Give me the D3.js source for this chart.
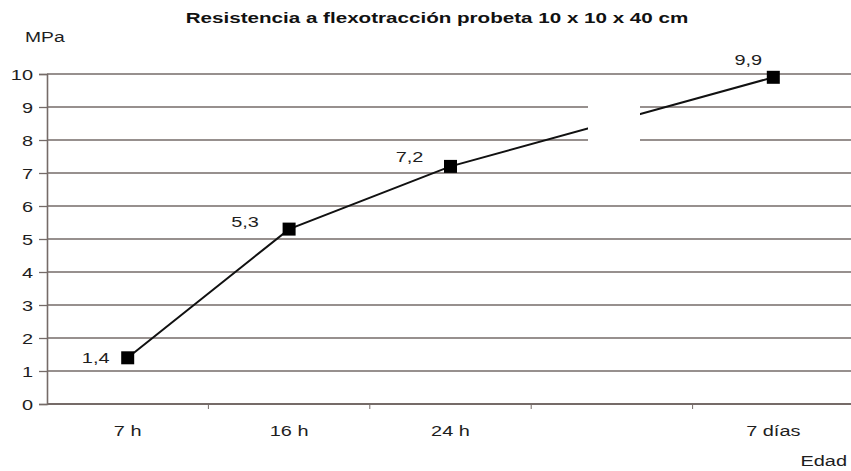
<!DOCTYPE html>
<html>
<head>
<meta charset="utf-8">
<script src="https://cdn.jsdelivr.net/npm/d3@7"></script>
<style>
  body { margin: 0; background: #fff; }
  svg { display: block; font-family: "Liberation Sans", Arial, sans-serif; }
</style>
</head>
<body>
<svg id="chart" width="851" height="471"></svg>
<script>
// Categories along the age axis (one empty slot marks the time break)
const categories = ["7 h", "16 h", "24 h", "", "7 días"];
// Measured flexural strength, MPa
const pointCats = ["7 h", "16 h", "24 h", "7 días"];
const values = [1.4, 5.3, 7.2, 9.9];
const valueLabels = ["1,4", "5,3", "7,2", "9,9"];
const yTicks = [0, 1, 2, 3, 4, 5, 6, 7, 8, 9, 10];

(function () {
  const svg = d3.select("#chart");
  const mLeft = 47, mRight = 854, mTop = 74, mBottom = 404;
  const stretch = 1.33;           // wide lettering used throughout
  const textColor = "#1e1e1e";
  const gridColor = "#756b68";

  const x = d3.scaleBand().domain(categories).range([mLeft, mRight]);
  const y = d3.scaleLinear().domain([0, 10]).range([mBottom, mTop]);

  // place a horizontally widened text at (tx, ty)
  function wide(sel, tx, ty) {
    return sel.attr("x", 0).attr("y", 0)
      .attr("transform", (d, i) => `translate(${typeof tx === "function" ? tx(d, i) : tx},${typeof ty === "function" ? ty(d, i) : ty}) scale(${stretch},1)`);
  }

  // horizontal gridlines
  svg.append("g").selectAll("line").data(yTicks.filter(d => d > 0)).join("line")
    .attr("x1", mLeft).attr("x2", mRight)
    .attr("y1", d => y(d)).attr("y2", d => y(d))
    .attr("stroke", gridColor).attr("stroke-width", 1.5);

  // y axis line and ticks
  const yAxis = svg.append("g").attr("transform", `translate(${mLeft},0)`)
    .call(d3.axisLeft(y).tickValues(yTicks).tickSize(8).tickFormat(""));
  yAxis.select(".domain").attr("stroke", gridColor).attr("stroke-width", 1.6);
  yAxis.selectAll(".tick line").attr("stroke", gridColor).attr("stroke-width", 1.3);

  // y tick labels
  wide(svg.append("g").selectAll("text").data(yTicks).join("text"), 33, d => y(d) + 5.5)
    .attr("text-anchor", "end").attr("font-size", 15).attr("fill", textColor)
    .text(d => d);

  // x axis with ticks at band boundaries
  const xAxis = svg.append("g").attr("transform", `translate(0,${mBottom})`);
  xAxis.append("line").attr("x1", mLeft).attr("x2", mRight)
    .attr("stroke", gridColor).attr("stroke-width", 1.8);
  xAxis.selectAll("line.tk").data(categories.slice(1)).join("line").attr("class", "tk")
    .attr("x1", d => x(d)).attr("x2", d => x(d)).attr("y1", 0).attr("y2", 5)
    .attr("stroke", gridColor);
  wide(xAxis.selectAll("text").data(categories).join("text"), d => x(d) + x.bandwidth() / 2, 32)
    .attr("text-anchor", "middle").attr("font-size", 15).attr("fill", textColor)
    .text(d => d);

  // data line
  const pts = pointCats.map((c, i) => ({ c, v: values[i], l: valueLabels[i] }));
  const px = d => x(d.c) + x.bandwidth() / 2;
  svg.append("path").datum(pts)
    .attr("d", d3.line().x(px).y(d => y(d.v)))
    .attr("fill", "none").attr("stroke", "#111").attr("stroke-width", 2);

  // break in the time axis
  svg.append("rect").attr("x", 588).attr("y", y(9.2)).attr("width", 52).attr("height", y(7.8) - y(9.2))
    .attr("fill", "#fff");

  // markers
  svg.append("g").selectAll("rect").data(pts).join("rect")
    .attr("x", d => px(d) - 6.5).attr("y", d => y(d.v) - 6.5)
    .attr("width", 13).attr("height", 13).attr("fill", "#000");

  // value labels
  const labelOffset = [[-32, 5], [-44, -2], [-41, -4], [-25, -12]];
  wide(svg.append("g").selectAll("text").data(pts).join("text"),
       (d, i) => px(d) + labelOffset[i][0], (d, i) => y(d.v) + labelOffset[i][1])
    .attr("text-anchor", "middle").attr("font-size", 15).attr("fill", textColor)
    .text(d => d.l);

  // titles
  wide(svg.append("text"), 437, 23).attr("text-anchor", "middle")
    .attr("font-size", 15.5).attr("font-weight", "bold").attr("fill", "#111")
    .text("Resistencia a flexotracción probeta 10 x 10 x 40 cm");
  wide(svg.append("text"), 25, 42).attr("font-size", 14.5).attr("fill", textColor).text("MPa");
  wide(svg.append("text"), 847, 466).attr("text-anchor", "end")
    .attr("font-size", 15).attr("fill", textColor).text("Edad");
})();
</script>
</body>
</html>
